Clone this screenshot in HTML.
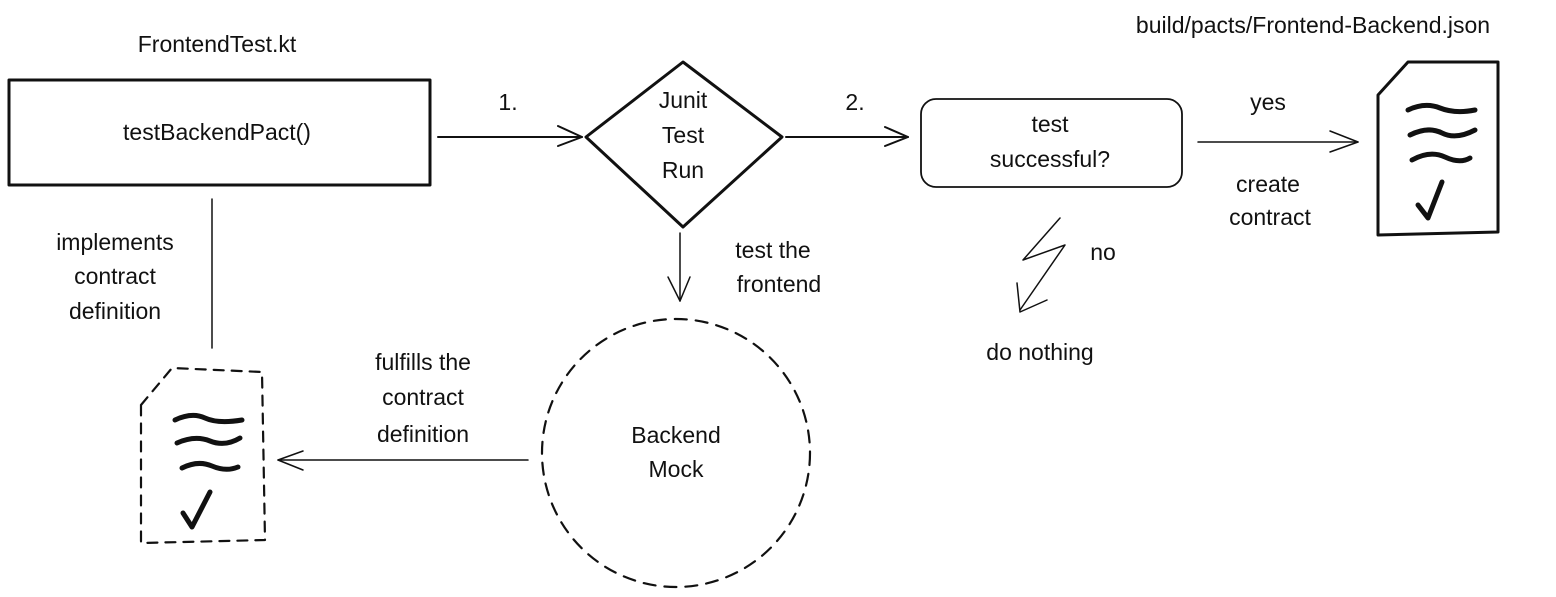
<!DOCTYPE html>
<html><head><meta charset="utf-8"><style>
html,body{margin:0;padding:0;background:#fff;}
svg{display:block}
text{font-family:"Liberation Sans",sans-serif;font-size:23px;fill:#111;text-anchor:middle;}
</style></head><body>
<svg width="1556" height="597" viewBox="0 0 1556 597" xmlns="http://www.w3.org/2000/svg">
<g fill="none" stroke="#111" stroke-linecap="round" stroke-linejoin="round">
<rect x="9" y="80" width="421" height="105" stroke-width="3"/>
<line x1="212" y1="199" x2="212" y2="348" stroke-width="1.5"/>
<line x1="438" y1="137" x2="582" y2="137" stroke-width="2"/>
<path d="M558 126 L582 137 L558 146" stroke-width="2"/>
<path d="M683 62 L782 137 L683 227 L586 137 Z" stroke-width="3"/>
<line x1="786" y1="137" x2="908" y2="137" stroke-width="2"/>
<path d="M885 127 L908 137 L885 146" stroke-width="2"/>
<rect x="921" y="99" width="261" height="88" rx="15" stroke-width="1.8"/>
<line x1="1198" y1="142" x2="1358" y2="142" stroke-width="1.5"/>
<path d="M1330 131 L1358 142 L1330 152" stroke-width="1.5"/>
<path d="M1378 95 L1408 62 L1498 62 L1498 232 L1378 235 Z" stroke-width="3"/>
<path d="M1408 110 Q1425 102 1440 108 T1475 110" stroke-width="5"/>
<path d="M1410 135 Q1428 126 1442 133 T1475 130" stroke-width="5"/>
<path d="M1412 160 Q1430 150 1445 157 T1470 158" stroke-width="5"/>
<path d="M1418 205 L1428 218 L1442 182" stroke-width="5"/>
<path d="M1060 218 L1023 260 L1065 245 L1020 310" stroke-width="1.5"/>
<path d="M1017 283 L1020 312 L1047 300" stroke-width="1.5"/>
<line x1="680" y1="233" x2="680" y2="301" stroke-width="1.5"/>
<path d="M668 277 L680 301 L690 277" stroke-width="1.5"/>
<circle cx="676" cy="453" r="134" stroke-width="2.2" stroke-dasharray="12 9"/>
<line x1="528" y1="460" x2="278" y2="460" stroke-width="1.5"/>
<path d="M303 451 L278 460 L303 470" stroke-width="1.5"/>
<path d="M141 405 L172 368 L262 372 L265 540 L141 543 Z" stroke-width="2.2" stroke-dasharray="10 8"/>
<path d="M175 420 Q192 412 205 418 T242 420" stroke-width="5"/>
<path d="M177 443 Q195 435 210 441 T240 438" stroke-width="5"/>
<path d="M182 468 Q198 460 212 466 T238 467" stroke-width="5"/>
<path d="M183 513 L192 527 L210 492" stroke-width="5"/>
</g>
<text x="217" y="52">FrontendTest.kt</text>
<text x="217" y="140">testBackendPact()</text>
<text x="115" y="250">implements</text>
<text x="115" y="284">contract</text>
<text x="115" y="319">definition</text>
<text x="508" y="110">1.</text>
<text x="683" y="108">Junit</text>
<text x="683" y="143">Test</text>
<text x="683" y="178">Run</text>
<text x="855" y="110">2.</text>
<text x="1050" y="132">test</text>
<text x="1050" y="167">successful?</text>
<text x="1268" y="110">yes</text>
<text x="1268" y="192">create</text>
<text x="1270" y="225">contract</text>
<text x="1313" y="33">build/pacts/Frontend-Backend.json</text>
<text x="1103" y="260">no</text>
<text x="1040" y="360">do nothing</text>
<text x="773" y="258">test the</text>
<text x="779" y="292">frontend</text>
<text x="676" y="443">Backend</text>
<text x="676" y="477">Mock</text>
<text x="423" y="370">fulfills the</text>
<text x="423" y="405">contract</text>
<text x="423" y="442">definition</text>
</svg>
</body></html>
